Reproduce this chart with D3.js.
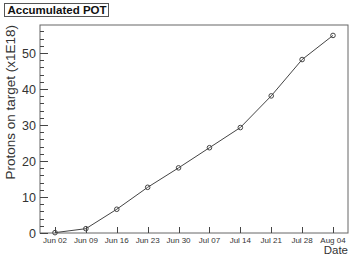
<!DOCTYPE html>
<html><head><meta charset="utf-8">
<script src="https://cdn.jsdelivr.net/npm/d3@7"></script>
<style>body{margin:0;background:#fff}svg{display:block;font-family:"Liberation Sans",Arial,sans-serif}</style>
</head><body>
<svg id="c" width="351" height="260"></svg>
<script>
const dates = ["2009-06-02","2009-06-09","2009-06-16","2009-06-23","2009-06-30","2009-07-07","2009-07-14","2009-07-21","2009-07-28","2009-08-04"];
const pot = [0.1, 1.2, 6.6, 12.7, 18.1, 23.7, 29.3, 38.1, 48.2, 54.9];
const yTicks = [0,10,20,30,40,50];
const title = "Accumulated POT";
const yLabel = "Protons on target (x1E18)";
const xLabel = "Date";

const parse = d3.timeParse("%Y-%m-%d");
const dd = dates.map(parse);
const pad = 3.4*864e5;
const L=40,R=348,T=25,B=233;
const x = d3.scaleTime().domain([new Date(+dd[0]-pad), new Date(+dd[dd.length-1]+pad)]).range([L,R]);
const y = d3.scaleLinear().domain([0,57.8]).range([B,T]);
const svg = d3.select("#c");
const col="#444";

// frame
svg.append("rect").attr("x",L).attr("y",T).attr("width",R-L).attr("height",B-T)
  .attr("fill","none").attr("stroke","#666").attr("stroke-width",1);

// y axis: major + minor ticks
const yMinor = d3.range(0,57.8,2);
svg.append("g").selectAll("line").data(yMinor).join("line")
  .attr("x1",L).attr("x2",d=>L+(d%10===0?8:4))
  .attr("y1",d=>Math.round(y(d))+0.5).attr("y2",d=>Math.round(y(d))+0.5)
  .attr("stroke",col);
svg.append("g").selectAll("text").data(yTicks).join("text")
  .attr("x",L-4).attr("y",d=>y(d)).attr("dy","0.36em").attr("text-anchor","end")
  .attr("font-size",12.5).attr("fill","#333").text(d=>d);

// x axis ticks
const fmt = d3.timeFormat("%b %d");
svg.append("g").selectAll("line").data(dd).join("line")
  .attr("x1",d=>Math.round(x(d))+0.5).attr("x2",d=>Math.round(x(d))+0.5)
  .attr("y1",B).attr("y2",B-6).attr("stroke",col);
svg.append("g").selectAll("text").data(dd).join("text")
  .attr("x",d=>x(d)).attr("y",B+10).attr("text-anchor","middle")
  .attr("font-size",8).attr("fill","#333").text(d=>fmt(d));

// line + markers
const pts = dd.map((d,i)=>[d,pot[i]]);
svg.append("path").datum(pts).attr("fill","none").attr("stroke",col).attr("stroke-width",1)
  .attr("d",d3.line().x(d=>x(d[0])).y(d=>y(d[1])));
svg.append("g").selectAll("circle").data(pts).join("circle")
  .attr("cx",d=>x(d[0])).attr("cy",d=>y(d[1])).attr("r",2.3)
  .attr("fill","none").attr("stroke",col).attr("stroke-width",1);

// labels
svg.append("text").attr("transform",`translate(15,${T}) rotate(-90)`)
  .attr("text-anchor","end").attr("font-size",13.5).attr("fill","#333").text(yLabel);
svg.append("text").attr("x",R).attr("y",254).attr("text-anchor","end")
  .attr("font-size",11.5).attr("fill","#333").text(xLabel);

// title box
svg.append("rect").attr("x",4.5).attr("y",3.5).attr("width",104).attr("height",13)
  .attr("fill","#fff").attr("stroke","#555");
svg.append("text").attr("x",57).attr("y",14).attr("text-anchor","middle")
  .attr("font-size",11.5).attr("font-weight","bold").attr("fill","#111").text(title);
</script>
</body></html>
